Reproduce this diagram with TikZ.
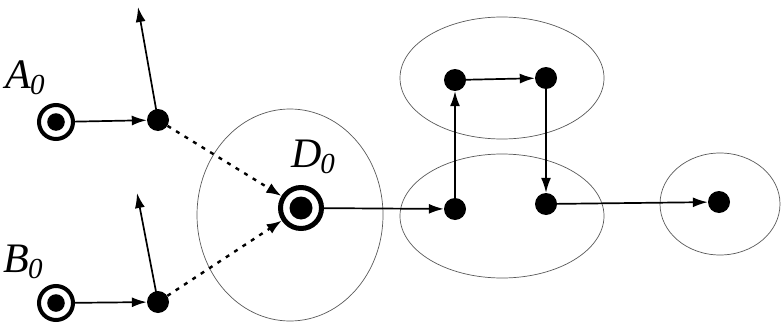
\documentclass[tikz,border=0pt]{standalone}
\usepackage{fontspec}
\setmainfont{Liberation Serif}
\usetikzlibrary{arrows.meta}
\newcommand{\sublbl}[1]{{\itshape #1}\kern-1pt\raisebox{-6pt}{\fontsize{29}{29}\selectfont\itshape 0}}
\begin{document}
\begin{tikzpicture}[x=1pt,y=-1pt,
  ringnode/.style={circle, draw, line width=4pt, minimum size=34pt, inner sep=0pt,
    path picture={\fill (path picture bounding box.center) circle (8.8pt);}},
  bigring/.style={circle, draw, line width=5pt, minimum size=41pt, inner sep=0pt,
    path picture={\fill (path picture bounding box.center) circle (11.5pt);}},
  dotnode/.style={circle, fill, minimum size=22pt, inner sep=0pt},
  arr/.style={line width=1.7pt, -{Latex[length=15pt,width=10pt]}},
  dotarr/.style={line width=2.4pt, dash pattern=on 4pt off 6pt, -{Latex[length=15pt,width=11pt]}},
  grp/.style={line width=0.7pt, black!65},
  lbl/.style={font=\fontsize{42}{44}\selectfont, inner sep=0pt}]
\useasboundingbox (0,0) rectangle (781,329);
% group ellipses
\draw[grp] (290,215) ellipse [x radius=93, y radius=106];
\draw[grp] (502,78) ellipse [x radius=102, y radius=61];
\draw[grp] (502,216) ellipse [x radius=102, y radius=62];
\draw[grp] (720,204) ellipse [x radius=60, y radius=51];
% nodes
\node[ringnode] (A0) at (56,122) {};
\node[ringnode] (B0) at (56,303) {};
\node[dotnode] (A1) at (158,120) {};
\node[dotnode] (B1) at (158,302) {};
\node[bigring] (D0) at (301,208) {};
\node[dotnode] (C1) at (455,209) {};
\node[dotnode] (C2) at (455,80) {};
\node[dotnode] (C3) at (546,78) {};
\node[dotnode] (C4) at (546,204) {};
\node[dotnode] (E) at (719,202) {};
\coordinate (Atop) at (138,7);
\coordinate (Btop) at (137,193);
% labels
\node[lbl] (LA) at (25,78) {\sublbl{A}};
\node[lbl] (LB) at (23,262) {\sublbl{B}};
\node[lbl] (LD) at (313,157) {\sublbl{D}};
% connectors
\draw[arr] (A0) -- (A1);
\draw[arr] (B0) -- (B1);
\draw[arr] (A1.center) -- (Atop);
\draw[arr] (B1.center) -- (Btop);
\draw[dotarr] (A1) -- (D0);
\draw[dotarr] (B1) -- (D0);
\draw[arr] (D0) -- (C1);
\draw[arr] (C1) -- (C2);
\draw[arr] (C2) -- (C3);
\draw[arr] (C3) -- (C4);
\draw[arr] (C4) -- (E);
\end{tikzpicture}
\end{document}
